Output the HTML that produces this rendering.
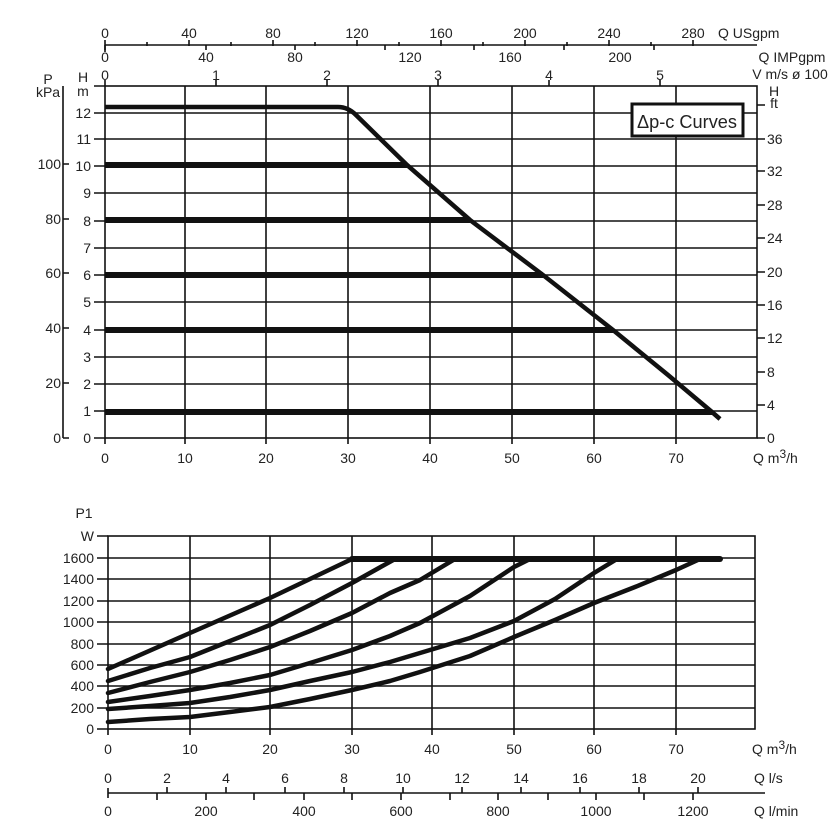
<!DOCTYPE html>
<html><head><meta charset="utf-8"><style>
html,body{margin:0;padding:0;background:#fff;}
svg{display:block;font-family:"Liberation Sans",Arial,sans-serif;}
text{fill:#222;}
</style></head><body>
<svg width="840" height="840" viewBox="0 0 840 840" xmlns="http://www.w3.org/2000/svg">
<g stroke="#111" stroke-width="1.6" fill="none">
<rect x="105" y="86" width="652" height="352"/>
<path d="M185 86V438M266 86V438M348 86V438M430 86V438M512 86V438M594 86V438M676 86V438"/>
<path d="M105 113H757M105 139H757M105 166H757M105 193H757M105 221H757M105 248H757M105 275H757M105 302H757M105 330H757M105 357H757M105 384H757M105 411H757"/>
<path d="M94 86H105M94 113H105M94 139H105M94 166H105M94 193H105M94 221H105M94 248H105M94 275H105M94 302H105M94 330H105M94 357H105M94 384H105M94 411H105M94 438H105"/>
<path d="M63 86V438M63 164H69M63 219H69M63 273H69M63 328H69M63 383H69M63 438H69"/>
<path d="M757 105H765M757 139H765M757 171H765M757 205H765M757 238H765M757 272H765M757 305H765M757 338H765M757 372H765M757 405H765M757 438H765"/>
<path d="M105 45H757M105 40V50M147 42V46M189 40V46M231 42V46M273 40V46M315 42V46M357 40V46M399 42V46M441 40V46M483 42V46M525 40V46M567 42V46M609 40V46M651 42V46M693 40V46"/>
<path d="M105 45V52M206 45V50M295 45V50M385 45V50M474 45V50M564 45V50M654 45V50"/>
<path d="M105 80V86M216 80V86M327 80V86M438 80V86M549 80V86M660 80V86"/>
<path d="M105 438V444M185 438V444M266 438V444M348 438V444M430 438V444M512 438V444M594 438V444M676 438V444"/>
</g>
<g stroke="#111" stroke-width="6" fill="none" stroke-linecap="butt">
<path d="M105 107H338Q348 107 356 115L407 165L470 220L543 275L613 330L668 375L712 412L720 419" stroke-width="4.5"/>
<path d="M105 165H407M105 220H470M105 275H543M105 330H613M105 412H712"/>
</g>
<rect x="632" y="104" width="111" height="32" fill="#fff" stroke="#111" stroke-width="3"/>
<text x="637" y="128" font-size="18" textLength="100" lengthAdjust="spacingAndGlyphs">Δp-c Curves</text>
<g font-size="14">
<text x="105" y="38" text-anchor="middle">0</text><text x="189" y="38" text-anchor="middle">40</text><text x="273" y="38" text-anchor="middle">80</text><text x="357" y="38" text-anchor="middle">120</text><text x="441" y="38" text-anchor="middle">160</text><text x="525" y="38" text-anchor="middle">200</text><text x="609" y="38" text-anchor="middle">240</text><text x="693" y="38" text-anchor="middle">280</text>
<text x="718" y="38">Q USgpm</text>
<text x="105" y="62" text-anchor="middle">0</text><text x="206" y="62" text-anchor="middle">40</text><text x="295" y="62" text-anchor="middle">80</text><text x="410" y="62" text-anchor="middle">120</text><text x="510" y="62" text-anchor="middle">160</text><text x="620" y="62" text-anchor="middle">200</text>
<text x="792" y="62" text-anchor="middle">Q IMPgpm</text>
<text x="105" y="80" text-anchor="middle">0</text><text x="216" y="80" text-anchor="middle">1</text><text x="327" y="80" text-anchor="middle">2</text><text x="438" y="80" text-anchor="middle">3</text><text x="549" y="80" text-anchor="middle">4</text><text x="660" y="80" text-anchor="middle">5</text>
<text x="790" y="79" text-anchor="middle">V m/s ø 100</text>
<text x="48" y="84" text-anchor="middle">P</text><text x="48" y="97" text-anchor="middle">kPa</text>
<text x="83" y="82" text-anchor="middle">H</text><text x="83" y="96" text-anchor="middle">m</text>
<text x="774" y="96" text-anchor="middle">H</text><text x="774" y="108" text-anchor="middle">ft</text>
<g text-anchor="end">
<text x="91" y="118">12</text><text x="91" y="144">11</text><text x="91" y="171">10</text><text x="91" y="198">9</text><text x="91" y="226">8</text><text x="91" y="253">7</text><text x="91" y="280">6</text><text x="91" y="307">5</text><text x="91" y="335">4</text><text x="91" y="362">3</text><text x="91" y="389">2</text><text x="91" y="416">1</text><text x="91" y="443">0</text>
<text x="61" y="169">100</text><text x="61" y="224">80</text><text x="61" y="278">60</text><text x="61" y="333">40</text><text x="61" y="388">20</text><text x="61" y="443">0</text>
</g>
<g text-anchor="start">
<text x="767" y="144">36</text><text x="767" y="176">32</text><text x="767" y="210">28</text><text x="767" y="243">24</text><text x="767" y="277">20</text><text x="767" y="310">16</text><text x="767" y="343">12</text><text x="767" y="377">8</text><text x="767" y="410">4</text><text x="767" y="443">0</text>
</g>
<g text-anchor="middle">
<text x="105" y="463">0</text><text x="185" y="463">10</text><text x="266" y="463">20</text><text x="348" y="463">30</text><text x="430" y="463">40</text><text x="512" y="463">50</text><text x="594" y="463">60</text><text x="676" y="463">70</text>
</g>
<text x="753" y="463">Q m<tspan dy="-5" font-size="12">3</tspan><tspan dy="5">/h</tspan></text>
</g>

<g stroke="#111" stroke-width="1.6" fill="none">
<rect x="108" y="536" width="647" height="193"/>
<path d="M190 536V729M270 536V729M352 536V729M432 536V729M514 536V729M594 536V729M676 536V729"/>
<path d="M108 558H755M108 579H755M108 601H755M108 622H755M108 644H755M108 665H755M108 686H755M108 708H755"/>
<path d="M97 536H108M97 558H108M97 579H108M97 601H108M97 622H108M97 644H108M97 665H108M97 686H108M97 708H108M97 729H108"/>
<path d="M108 729V735M190 729V735M270 729V735M352 729V735M432 729V735M514 729V735M594 729V735M676 729V735"/>
<path d="M108 793H765"/>
<path d="M108 788V798M167 787V793M226 787V793M285 787V793M344 787V793M403 787V793M462 787V793M521 787V793M580 787V793M639 787V793M698 787V793"/>
<path d="M157 793V800M206 793V800M254 793V800M304 793V800M352 793V800M401 793V800M450 793V800M498 793V800M548 793V800M596 793V800M644 793V800M693 793V800"/>
</g>
<g stroke="#111" stroke-width="4.5" fill="none" stroke-linecap="round" stroke-linejoin="round">
<path d="M352 559H720" stroke-width="6"/>
<polyline points="108,669 190,633 270,598 352,559"/>
<polyline points="108,681 150,668 190,657 230,641 270,625 310,605 352,583 395,559"/>
<polyline points="108,693 150,682 190,672 230,660 270,647 310,631 352,613 390,593 420,580 455,559"/>
<polyline points="108,702 150,696 190,690 230,683 270,675 310,663 352,650 390,636 420,623 470,596 514,567 530,559"/>
<polyline points="108,709 150,706 190,703 230,697 270,690 310,681 352,672 390,662 420,653 470,638 514,621 555,599 594,573 617,559"/>
<polyline points="108,722 150,719 190,717 230,712 270,707 310,699 352,690 390,681 420,672 470,656 514,637 555,620 594,603 635,587 676,570 700,559"/>
</g>
<g font-size="14">
<text x="84" y="518" text-anchor="middle">P1</text>
<g text-anchor="end">
<text x="94" y="541">W</text><text x="94" y="563">1600</text><text x="94" y="584">1400</text><text x="94" y="606">1200</text><text x="94" y="627">1000</text><text x="94" y="649">800</text><text x="94" y="670">600</text><text x="94" y="691">400</text><text x="94" y="713">200</text><text x="94" y="734">0</text>
</g>
<g text-anchor="middle">
<text x="108" y="754">0</text><text x="190" y="754">10</text><text x="270" y="754">20</text><text x="352" y="754">30</text><text x="432" y="754">40</text><text x="514" y="754">50</text><text x="594" y="754">60</text><text x="676" y="754">70</text>
<text x="108" y="783">0</text><text x="167" y="783">2</text><text x="226" y="783">4</text><text x="285" y="783">6</text><text x="344" y="783">8</text><text x="403" y="783">10</text><text x="462" y="783">12</text><text x="521" y="783">14</text><text x="580" y="783">16</text><text x="639" y="783">18</text><text x="698" y="783">20</text>
<text x="108" y="816">0</text><text x="206" y="816">200</text><text x="304" y="816">400</text><text x="401" y="816">600</text><text x="498" y="816">800</text><text x="596" y="816">1000</text><text x="693" y="816">1200</text>
</g>
<text x="752" y="754">Q m<tspan dy="-5" font-size="12">3</tspan><tspan dy="5">/h</tspan></text>
<text x="754" y="783">Q l/s</text>
<text x="754" y="816">Q l/min</text>
</g>
</svg>
</body></html>
